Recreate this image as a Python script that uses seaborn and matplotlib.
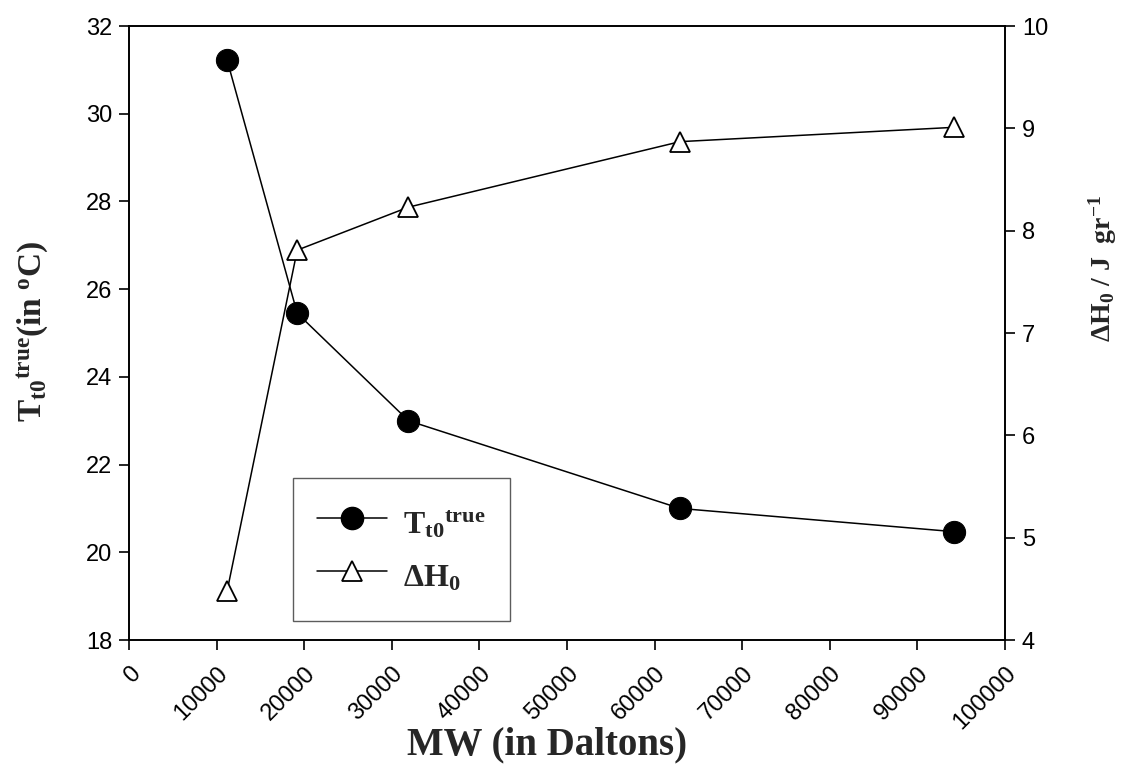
import matplotlib
matplotlib.use("Agg")
import matplotlib.pyplot as plt
import seaborn as sns
import pandas as pd
from matplotlib.lines import Line2D

# Data
mw = [11200, 19200, 31900, 62900, 94200]
t_true = [31.22, 25.45, 23.0, 21.0, 20.47]
dh0 = [4.48, 7.81, 8.23, 8.87, 9.01]

x_ticks = [0, 10000, 20000, 30000, 40000, 50000, 60000, 70000, 80000, 90000, 100000]
left_ticks = [18, 20, 22, 24, 26, 28, 30, 32]
right_ticks = [4, 5, 6, 7, 8, 9, 10]

sns.set_theme(style="white")
plt.rcParams["font.family"] = ["Liberation Sans", "DejaVu Sans"]
plt.rcParams["mathtext.fontset"] = "custom"
plt.rcParams["mathtext.rm"] = "Liberation Serif:bold"
plt.rcParams["mathtext.bf"] = "Liberation Serif:bold"
plt.rcParams["mathtext.it"] = "Liberation Serif:bold"
plt.rcParams["mathtext.default"] = "rm"

df = pd.DataFrame({"mw": mw, "t": t_true, "dh": dh0})

fig = plt.figure(figsize=(11.23, 7.74), dpi=100)
ax = fig.add_axes([0.1149, 0.1731, 0.7801, 0.7933])
ax2 = ax.twinx()

lw = 1.1
sns.lineplot(data=df, x="mw", y="t", ax=ax, color="black", marker="o",
             markersize=16, markeredgecolor="black", linewidth=lw)
sns.lineplot(data=df, x="mw", y="dh", ax=ax2, color="black", marker="^",
             markersize=15, markerfacecolor="white", markeredgecolor="black",
             markeredgewidth=1.3, linewidth=lw)

ax.set_xlim(0, 100000)
ax.set_ylim(18, 32)
ax2.set_ylim(4, 10)
ax.set_xticks(x_ticks)
ax.set_xticklabels([str(v) for v in x_ticks], rotation=45, ha="right",
                   rotation_mode="anchor")
ax.set_yticks(left_ticks)
ax.set_yticklabels([str(v) for v in left_ticks])
ax2.set_yticks(right_ticks)
ax2.set_yticklabels([str(v) for v in right_ticks])

for a in (ax, ax2):
    for s in a.spines.values():
        s.set_color("black")
        s.set_linewidth(1.2)
ax.tick_params(axis="both", which="major", direction="out", length=7, width=1.2,
               labelsize=17, colors="black", pad=5, bottom=True, left=True)
ax.tick_params(axis="x", pad=9)
ax2.tick_params(axis="y", direction="out", length=7, width=1.2, labelsize=17,
                colors="black", right=True, pad=5)

serif = dict(family="Liberation Serif", fontweight="bold")
ax.set_xlabel("MW (in Daltons)", fontsize=28, **serif)
ax.xaxis.set_label_coords(0.477, -0.140)
ax.set_ylabel(r"T$_{t0}{}^{true}$(in $^{o}$C)", fontsize=24, va="center", **serif)
ax.yaxis.set_label_coords(-0.111, 0.503)
ax2.set_ylabel(r"$\Delta$H$_{0}$ / J  gr$^{-1}$", fontsize=20, va="center",
               rotation=90, **serif)
ax2.yaxis.set_label_coords(1.112, 0.606)

handles = [
    Line2D([], [], color="black", marker="o", markersize=16, linewidth=lw),
    Line2D([], [], color="black", marker="^", markersize=15, markerfacecolor="white",
           markeredgewidth=1.3, linewidth=lw),
]
labels = [r"T$_{t0}{}^{true}$", r"$\Delta$H$_{0}$"]
leg = ax.legend(handles, labels, loc="lower left", bbox_to_anchor=(0.187, 0.031),
                prop=dict(family="Liberation Serif", weight="bold", size=23),
                frameon=True, fancybox=False, handlelength=2.2, handleheight=1.6,
                borderpad=0.75, labelspacing=0.4, handletextpad=0.5,
                borderaxespad=0)
leg.get_frame().set_edgecolor("#333333")
leg.get_frame().set_linewidth(1.0)

fig.savefig("out.png", dpi=100)
